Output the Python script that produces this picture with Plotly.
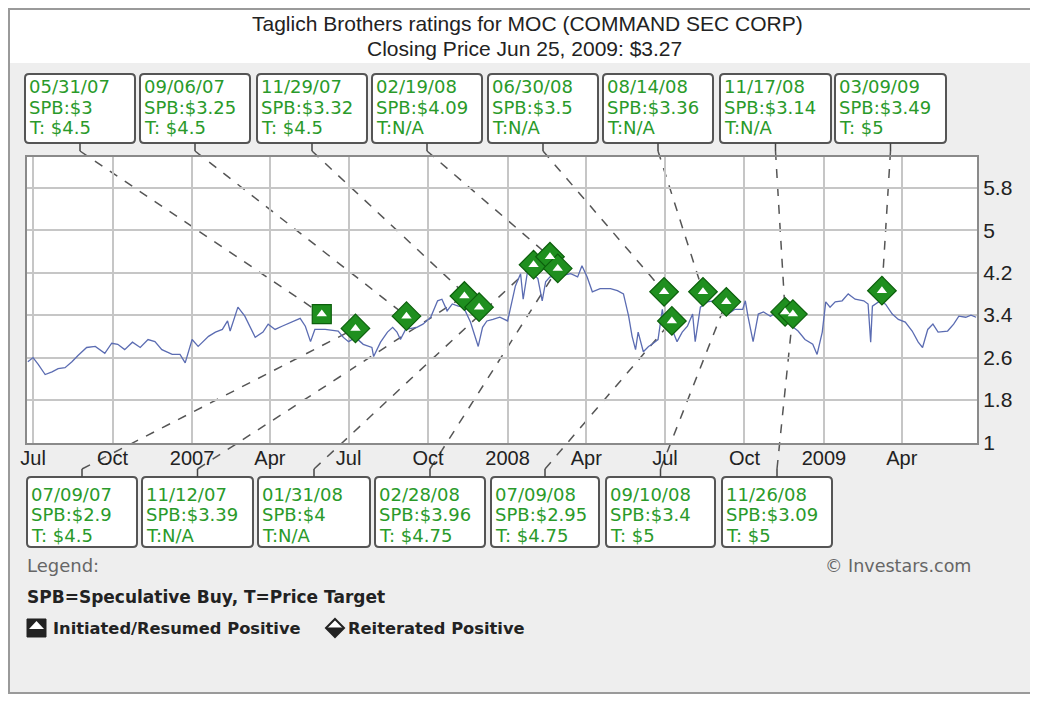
import plotly.graph_objects as go
import pandas as pd

# ---------------- data ----------------
price_dates = [
    '2006-06-25', '2006-07-01', '2006-07-07', '2006-07-15', '2006-07-23', '2006-07-30', '2006-08-07',
    '2006-08-15', '2006-08-22', '2006-09-01', '2006-09-11', '2006-09-22', '2006-09-30', '2006-10-07',
    '2006-10-15', '2006-10-24', '2006-11-02', '2006-11-11', '2006-11-19', '2006-11-27', '2006-12-09',
    '2006-12-18', '2006-12-24', '2007-01-01', '2007-01-08', '2007-01-20', '2007-01-28', '2007-02-05',
    '2007-02-11', '2007-02-14', '2007-02-23', '2007-03-03', '2007-03-15', '2007-03-24', '2007-03-30',
    '2007-04-07', '2007-04-15', '2007-04-27', '2007-05-06', '2007-05-12', '2007-05-18', '2007-05-23',
    '2007-06-04', '2007-06-19', '2007-06-25', '2007-07-01', '2007-07-09', '2007-07-18', '2007-07-28',
    '2007-07-30', '2007-08-07', '2007-08-15', '2007-08-21', '2007-08-26', '2007-08-30', '2007-09-05',
    '2007-09-18', '2007-09-25', '2007-10-04', '2007-10-12', '2007-10-17', '2007-10-23', '2007-10-29',
    '2007-11-05', '2007-11-11', '2007-11-19', '2007-11-22', '2007-11-28', '2007-12-03', '2007-12-08',
    '2007-12-15', '2007-12-23', '2008-01-01', '2008-01-06', '2008-01-10', '2008-01-16', '2008-01-19',
    '2008-01-24', '2008-01-30', '2008-02-05', '2008-02-10', '2008-02-14', '2008-02-19', '2008-03-02',
    '2008-03-14', '2008-03-22', '2008-03-27', '2008-04-02', '2008-04-08', '2008-04-17', '2008-04-29',
    '2008-05-07', '2008-05-14', '2008-05-20', '2008-05-24', '2008-05-28', '2008-05-31', '2008-06-06',
    '2008-06-12', '2008-06-16', '2008-06-23', '2008-06-28', '2008-07-01', '2008-07-10', '2008-07-15',
    '2008-07-21', '2008-07-27', '2008-08-02', '2008-08-05', '2008-08-11', '2008-08-19', '2008-08-26',
    '2008-09-03', '2008-09-12', '2008-09-20', '2008-09-29', '2008-10-02', '2008-10-05', '2008-10-11',
    '2008-10-17', '2008-10-23', '2008-10-31', '2008-11-08', '2008-11-17', '2008-11-25', '2008-12-02',
    '2008-12-10', '2008-12-19', '2008-12-24', '2008-12-30', '2009-01-03', '2009-01-08', '2009-01-14',
    '2009-01-22', '2009-01-29', '2009-02-06', '2009-02-16', '2009-02-21', '2009-02-24', '2009-02-26',
    '2009-03-05', '2009-03-13', '2009-03-21', '2009-03-28', '2009-04-05', '2009-04-13', '2009-04-20',
    '2009-04-25', '2009-05-01', '2009-05-07', '2009-05-13', '2009-05-24', '2009-05-31', '2009-06-06',
    '2009-06-14', '2009-06-20', '2009-06-26',
]
price_values = [
    2.52, 2.60, 2.47, 2.28, 2.33, 2.39, 2.41,
    2.52, 2.64, 2.79, 2.81, 2.68, 2.87, 2.85,
    2.75, 2.89, 2.79, 2.94, 2.90, 2.75, 2.66,
    2.66, 2.50, 2.94, 2.81, 3.00, 3.08, 3.13,
    3.29, 3.10, 3.55, 3.38, 2.98, 3.08, 3.23,
    3.13, 3.19, 3.27, 3.34, 3.19, 2.90, 3.13,
    3.13, 3.10, 2.98, 2.90, 2.98, 2.85, 2.79,
    2.62, 2.89, 3.08, 3.17, 3.08, 2.94, 3.13,
    3.17, 3.23, 3.36, 3.67, 3.70, 3.48, 3.61,
    3.57, 3.55, 3.27, 3.10, 2.81, 3.17, 3.29,
    3.32, 3.36, 3.29, 3.65, 3.95, 4.18, 3.70,
    4.22, 4.18, 4.09, 3.67, 4.03, 4.12, 4.14,
    4.18, 4.12, 4.33, 4.12, 3.84, 3.90, 3.90,
    3.86, 3.80, 3.38, 3.00, 2.75, 3.08, 2.71,
    2.81, 2.85, 2.94, 3.51, 3.19, 3.10, 2.90,
    3.08, 3.19, 3.42, 2.90, 3.55, 3.65, 3.67,
    3.65, 3.42, 3.51, 3.51, 3.67, 3.38, 2.90,
    3.42, 3.46, 3.38, 3.46, 3.32, 3.19, 3.10,
    2.94, 2.85, 2.66, 3.08, 3.65, 3.55, 3.65,
    3.67, 3.80, 3.70, 3.67, 3.61, 2.89, 3.57,
    3.65, 3.61, 3.42, 3.32, 3.27, 3.10, 2.89,
    2.79, 3.13, 3.23, 3.08, 3.10, 3.23, 3.38,
    3.36, 3.40, 3.36,
]

rating_dates = ['2007-05-31', '2007-07-09', '2007-09-06', '2007-11-12', '2007-11-29',
                '2008-01-31', '2008-02-19', '2008-02-28', '2008-06-30', '2008-07-09',
                '2008-08-14', '2008-09-10', '2008-11-17', '2008-11-26', '2009-03-09']
rating_marker_price = [3.42, 3.15, 3.38, 3.76, 3.55, 4.35, 4.50, 4.28, 3.84, 3.29,
                       3.84, 3.65, 3.46, 3.42, 3.86]
rating_spb = ['3', '2.9', '3.25', '3.39', '3.32', '4', '4.09', '3.96', '3.5', '2.95',
              '3.36', '3.4', '3.14', '3.09', '3.49']
rating_target = ['4.5', '4.5', '4.5', 'N/A', '4.5', 'N/A', 'N/A', '4.75', 'N/A', '4.75',
                 'N/A', '5', 'N/A', '5', '5']
rating_kind = ['Initiated'] + ['Reiterated'] * 14
rating_side = ['top', 'bottom', 'top', 'bottom', 'top', 'bottom', 'top', 'bottom',
               'top', 'bottom', 'top', 'bottom', 'top', 'bottom', 'top']

x_tick_dates = ['2006-07-01', '2006-10-01', '2007-01-01', '2007-04-01', '2007-07-01', '2007-10-01',
                '2008-01-01', '2008-04-01', '2008-07-01', '2008-10-01', '2009-01-01', '2009-04-01']
x_tick_text = ['Jul', 'Oct', '2007', 'Apr', 'Jul', 'Oct', '2008', 'Apr', 'Jul', 'Oct', '2009', 'Apr']
y_tick_vals = [1, 1.8, 2.6, 3.4, 4.2, 5, 5.8]

title_line1 = 'Taglich Brothers ratings for MOC (COMMAND SEC CORP)'
title_line2 = 'Closing Price Jun 25, 2009: $3.27'

# ---------------- layout geometry (page pixels; page body has 8px margin) ----------------
OFF = 8
W, H = 1030, 686
PL, PR, PT, PB = 27, 977, 157, 443
X_RANGE = ['2006-06-24', '2009-06-27']
Y_RANGE = [0.99, 6.38]

TOP_LEFTS = [25, 140, 257, 372, 488, 603, 720, 835]
TOP_WIDTHS = [110, 110, 110, 110, 110, 110, 111, 111]
TOP_Y0, TOP_Y1 = 74, 143
TOP_LINES = [87, 107.5, 128]
BOT_LEFTS = [27, 142, 258, 375, 491, 606, 722]
BOT_WIDTHS = [110, 111, 112, 110, 108, 109, 110]
BOT_Y0, BOT_Y1 = 477, 547
BOT_LINES = [494, 514.5, 535]


def pxx(px):
    return (px - PL) / (PR - PL)


def pxy(py):
    return (PB - py) / (PB - PT)


def data_px(date, val):
    t0, t1 = pd.Timestamp(X_RANGE[0]), pd.Timestamp(X_RANGE[1])
    fx = (pd.Timestamp(date) - t0) / (t1 - t0)
    fy = (val - Y_RANGE[0]) / (Y_RANGE[1] - Y_RANGE[0])
    return PL + fx * (PR - PL), PB - fy * (PB - PT)


def path_px(points):
    return 'M ' + ' L '.join(f'{pxx(x):.5f},{pxy(y):.5f}' for x, y in points) + ' Z'


def rounded_rect(x0, y0, x1, y1, r=4):
    P = lambda x, y: f'{pxx(x):.5f},{pxy(y):.5f}'
    return (f'M {P(x0 + r, y0)} L {P(x1 - r, y0)} Q {P(x1, y0)} {P(x1, y0 + r)} '
            f'L {P(x1, y1 - r)} Q {P(x1, y1)} {P(x1 - r, y1)} '
            f'L {P(x0 + r, y1)} Q {P(x0, y1)} {P(x0, y1 - r)} '
            f'L {P(x0, y0 + r)} Q {P(x0, y0)} {P(x0 + r, y0)} Z')


GREEN_TXT = '#2a9a2a'
GREEN = '#1f8f1f'
FONT_BOX = 'DejaVu Sans'
FONT_AX = 'Liberation Sans, Arial'

fig = go.Figure()

fig.add_trace(go.Scatter(x=price_dates, y=price_values, mode='lines',
                         line=dict(color='#5b6cb2', width=1.3),
                         hoverinfo='skip', showlegend=False))

rei = [i for i, k in enumerate(rating_kind) if k == 'Reiterated']
ini = [i for i, k in enumerate(rating_kind) if k == 'Initiated']

fig.add_trace(go.Scatter(x=[rating_dates[i] for i in rei], y=[rating_marker_price[i] for i in rei],
                         mode='markers', showlegend=False, hoverinfo='skip',
                         marker=dict(symbol='diamond', size=22, color=GREEN,
                                     line=dict(color='#0c5f0c', width=1.2))))
fig.add_trace(go.Scatter(x=[rating_dates[i] for i in ini], y=[rating_marker_price[i] for i in ini],
                         mode='markers', showlegend=False, hoverinfo='skip',
                         marker=dict(symbol='square', size=19, color=GREEN,
                                     line=dict(color='#0c5f0c', width=1.2))))
fig.add_trace(go.Scatter(x=rating_dates, y=rating_marker_price, mode='markers',
                         showlegend=False, hoverinfo='skip',
                         marker=dict(symbol='triangle-up', size=9, color='white',
                                     line=dict(width=0))))

shapes = []
annotations = []

# white title band and card border
shapes.append(dict(type='rect', xref='paper', yref='paper', x0=pxx(OFF), x1=pxx(W + OFF + 10),
                   y0=pxy(63), y1=pxy(OFF), fillcolor='white', line=dict(width=0), layer='below'))
for (x0, y0, x1, y1) in [(OFF, OFF + 1, W + OFF + 10, OFF + 1), (OFF + 1, OFF, OFF + 1, H + OFF),
                         (OFF, H + OFF - 1, W + OFF + 10, H + OFF - 1)]:
    shapes.append(dict(type='line', xref='paper', yref='paper', x0=pxx(x0), x1=pxx(x1),
                       y0=pxy(y0), y1=pxy(y1), line=dict(color='#9a9a9a', width=2)))

# title
annotations.append(dict(x=pxx(527), y=pxy(23), xref='paper', yref='paper', text=title_line1,
                        showarrow=False, yanchor='middle',
                        font=dict(family=FONT_AX, size=21, color='#222')))
annotations.append(dict(x=pxx(524), y=pxy(48), xref='paper', yref='paper', text=title_line2,
                        showarrow=False, yanchor='middle',
                        font=dict(family=FONT_AX, size=21, color='#222')))

# rating boxes and leader lines
top_idx = [i for i in range(len(rating_dates)) if rating_side[i] == 'top']
bot_idx = [i for i in range(len(rating_dates)) if rating_side[i] == 'bottom']

for i in top_idx + bot_idx:
    is_top = rating_side[i] == 'top'
    if is_top:
        k = top_idx.index(i)
        left, w = TOP_LEFTS[k], TOP_WIDTHS[k]
        y0, y1, lines_y = TOP_Y0, TOP_Y1, TOP_LINES
    else:
        k = bot_idx.index(i)
        left, w = BOT_LEFTS[k], BOT_WIDTHS[k]
        y0, y1, lines_y = BOT_Y0, BOT_Y1, BOT_LINES
    d = pd.Timestamp(rating_dates[i]).strftime('%m/%d/%y')
    tgt = 'T:N/A' if rating_target[i] == 'N/A' else f'T: ${rating_target[i]}'
    texts = [d, f'SPB:${rating_spb[i]}', tgt]
    shapes.append(dict(type='path', xref='paper', yref='paper', path=rounded_rect(left, y0, left + w, y1),
                       fillcolor='white', line=dict(color='#555', width=2)))
    for t, ly in zip(texts, lines_y):
        annotations.append(dict(x=pxx(left + 2), y=pxy(ly), xref='paper', yref='paper',
                                xanchor='left', yanchor='middle', text=t, showarrow=False,
                                font=dict(family=FONT_BOX, size=18, color=GREEN_TXT)))
    cx = left + w / 2
    mx, my = data_px(rating_dates[i], rating_marker_price[i])
    if is_top:
        ya, yb = y1, y1 + 8
    else:
        ya, yb = y0, y0 - 8
    shapes.append(dict(type='line', xref='paper', yref='paper', x0=pxx(cx), x1=pxx(cx),
                       y0=pxy(ya), y1=pxy(yb), line=dict(color='#444', width=1.5)))
    shapes.append(dict(type='line', xref='paper', yref='paper', x0=pxx(cx), x1=pxx(mx),
                       y0=pxy(yb), y1=pxy(my), line=dict(color='#555', width=1.5, dash='dash'),
                       layer='below'))

# legend area
annotations.append(dict(x=pxx(25), y=pxy(565), xref='paper', yref='paper', xanchor='left',
                        yanchor='middle', text='Legend:', showarrow=False,
                        font=dict(family=FONT_BOX, size=18, color='#666')))
annotations.append(dict(x=pxx(25), y=pxy(597), xref='paper', yref='paper', xanchor='left',
                        yanchor='middle', text='<b>SPB=Speculative Buy, T=Price Target</b>',
                        showarrow=False, font=dict(family=FONT_BOX, size=17, color='#222')))
annotations.append(dict(x=pxx(51), y=pxy(628), xref='paper', yref='paper', xanchor='left',
                        yanchor='middle', text='<b>Initiated/Resumed Positive</b>', showarrow=False,
                        font=dict(family=FONT_BOX, size=16.3, color='#222')))
annotations.append(dict(x=pxx(346), y=pxy(628), xref='paper', yref='paper', xanchor='left',
                        yanchor='middle', text='<b>Reiterated Positive</b>', showarrow=False,
                        font=dict(family=FONT_BOX, size=16.3, color='#222')))
annotations.append(dict(x=pxx(973), y=pxy(566), xref='paper', yref='paper', xanchor='right',
                        yanchor='middle', text='© Investars.com', showarrow=False,
                        font=dict(family=FONT_BOX, size=17.5, color='#666')))

# legend icons
shapes.append(dict(type='path', xref='paper', yref='paper',
                   path=path_px([(27, 619), (46, 619), (46, 637), (27, 637)]),
                   fillcolor='#222', line=dict(color='#222', width=1)))
shapes.append(dict(type='path', xref='paper', yref='paper',
                   path=path_px([(29, 629), (36.5, 621), (44, 629)]),
                   fillcolor='white', line=dict(width=0)))
shapes.append(dict(type='path', xref='paper', yref='paper',
                   path=path_px([(326, 628), (335, 619), (344, 628), (335, 637)]),
                   fillcolor='white', line=dict(color='#222', width=2)))
shapes.append(dict(type='path', xref='paper', yref='paper',
                   path=path_px([(326, 628), (344, 628), (335, 637)]),
                   fillcolor='#222', line=dict(color='#222', width=1)))

fig.update_layout(
    width=W, height=H,
    margin=dict(l=PL - OFF, r=W - (PR - OFF), t=PT - OFF, b=H - (PB - OFF), pad=0),
    paper_bgcolor='#eeeeee', plot_bgcolor='white',
    showlegend=False,
    shapes=shapes, annotations=annotations,
    xaxis=dict(range=X_RANGE, type='date', tickmode='array', tickvals=x_tick_dates,
               ticktext=x_tick_text, showgrid=True, gridcolor='#c6c6c6', gridwidth=2,
               showline=True, linecolor='#8a8a8a', linewidth=2, mirror=True,
               ticks='', tickfont=dict(family=FONT_AX, size=20, color='#222'),
               ticklabelstandoff=-4,
               zeroline=False, fixedrange=True),
    yaxis=dict(range=Y_RANGE, side='right', tickmode='array', tickvals=y_tick_vals,
               ticktext=[f'{v:g}' for v in y_tick_vals],
               showgrid=True, gridcolor='#c6c6c6', gridwidth=2,
               showline=True, linecolor='#8a8a8a', linewidth=2, mirror=True,
               ticks='', tickfont=dict(family=FONT_AX, size=21, color='#222'),
               zeroline=False, fixedrange=True),
)

fig.write_html('out.html')
